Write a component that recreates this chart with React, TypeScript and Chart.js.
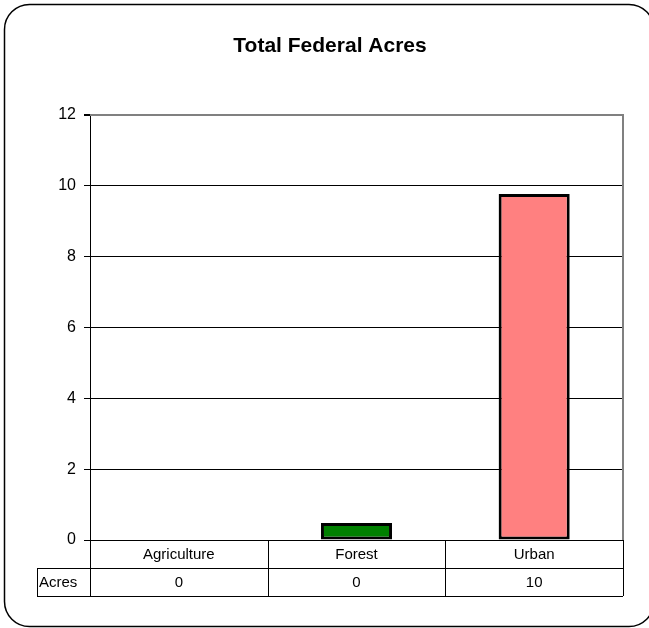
import React, { useEffect, useRef } from "react";
import { Chart, registerables } from "chart.js";

Chart.register(...registerables);

const title = "Total Federal Acres";
const categories = ["Agriculture", "Forest", "Urban"];
const seriesName = "Acres";
const acres = [0, 0.48, 9.77];
const barColors = ["#9999FF", "#008000", "#FF8080"];
const yTicks = [0, 2, 4, 6, 8, 10, 12];

const FONT = "'Liberation Sans', Arial, Helvetica, sans-serif";

const frameAndTable = {
  id: "frameAndTable",
  beforeDatasetsDraw(chart: any) {
    const { ctx, chartArea } = chart;
    ctx.save();
    ctx.strokeStyle = "#808080";
    ctx.lineWidth = 2;
    ctx.beginPath();
    ctx.moveTo(chartArea.left, chartArea.top);
    ctx.lineTo(chartArea.right, chartArea.top);
    ctx.lineTo(chartArea.right, chartArea.bottom);
    ctx.stroke();
    ctx.restore();
  },
  afterDraw(chart: any) {
    const { ctx, chartArea } = chart;
    const xs = chart.scales.x;
    const n = categories.length;
    const half = (chartArea.right - chartArea.left) / n / 2;
    const top = chartArea.bottom;
    const rowH = 28;
    const mid = top + rowH;
    const bot = top + rowH * 2;
    const rowLeft = 37;
    ctx.save();
    // outer rounded frame
    ctx.strokeStyle = "#000";
    ctx.lineWidth = 1.5;
    ctx.beginPath();
    (ctx as any).roundRect(4.5, 4.5, 649.5, 622, 25);
    ctx.stroke();

    ctx.lineWidth = 1;
    ctx.strokeStyle = "#000";
    ctx.beginPath();
    ctx.moveTo(rowLeft, mid + 0.5);
    ctx.lineTo(chartArea.right, mid + 0.5);
    ctx.moveTo(rowLeft, bot + 0.5);
    ctx.lineTo(chartArea.right, bot + 0.5);
    ctx.moveTo(rowLeft + 0.5, mid);
    ctx.lineTo(rowLeft + 0.5, bot);
    for (let i = 0; i <= n; i++) {
      const x = Math.round(i < n ? xs.getPixelForValue(i) - half : chartArea.right) + 0.5;
      ctx.moveTo(x, top);
      ctx.lineTo(x, bot);
    }
    ctx.stroke();

    ctx.fillStyle = "#000";
    ctx.font = `15px ${FONT}`;
    ctx.textBaseline = "middle";
    ctx.textAlign = "center";
    categories.forEach((c, i) => {
      const cx = xs.getPixelForValue(i);
      ctx.fillText(c, cx, top + rowH / 2 + 1);
      ctx.fillText(String(Math.round(acres[i])), cx, mid + rowH / 2 + 1);
    });
    ctx.textAlign = "left";
    ctx.fillText(seriesName, rowLeft + 2, mid + rowH / 2 + 1);
    ctx.restore();
  },
};

export default function App() {
  const ref = useRef<HTMLCanvasElement>(null);
  useEffect(() => {
    if (!ref.current) return;
    const chart = new Chart(ref.current, {
      type: "bar",
      data: {
        labels: categories,
        datasets: [
          {
            label: seriesName,
            data: acres,
            backgroundColor: barColors,
            borderColor: "#000",
            borderWidth: 3,
            borderSkipped: false,
            categoryPercentage: 1,
            barPercentage: 0.4,
          },
        ],
      },
      options: {
        responsive: false,
        animation: false,
        layout: { padding: { left: 37, right: 26, top: 0, bottom: 0 } },
        plugins: {
          legend: { display: false },
          tooltip: { enabled: false },
          title: {
            display: true,
            text: title,
            color: "#000",
            font: { family: FONT, size: 21, weight: "bold" },
            padding: { top: 34, bottom: 55.8 },
          },
        },
        scales: {
          x: {
            grid: { display: false },
            ticks: { display: false },
            border: { display: true, color: "#000", width: 1 },
            afterFit: (s: any) => {
              s.height = 88;
            },
          },
          y: {
            min: 0,
            max: 12,
            afterBuildTicks: (s: any) => {
              s.ticks = yTicks.map((v) => ({ value: v }));
            },
            ticks: {
              color: "#000",
              font: { family: FONT, size: 16 },
              padding: 8,
            },
            grid: {
              color: (c: any) => (c.tick && c.tick.value === 12 ? "#808080" : "#000"),
              tickColor: "#000",
              tickLength: 6,
              lineWidth: (c: any) => (c.tick && c.tick.value === 12 ? 2 : 1),
            },
            border: { display: true, color: "#000", width: 1 },
            afterFit: (s: any) => {
              s.width = 53;
            },
          },
        },
      },
      plugins: [frameAndTable],
    });
    return () => chart.destroy();
  }, []);
  return (
    <div style={{ position: "absolute", left: 0, top: 0, width: 649, height: 628, background: "#fff" }}>
      <canvas ref={ref} width={649} height={628} style={{ width: 649, height: 628, display: "block" }} />
    </div>
  );
}
